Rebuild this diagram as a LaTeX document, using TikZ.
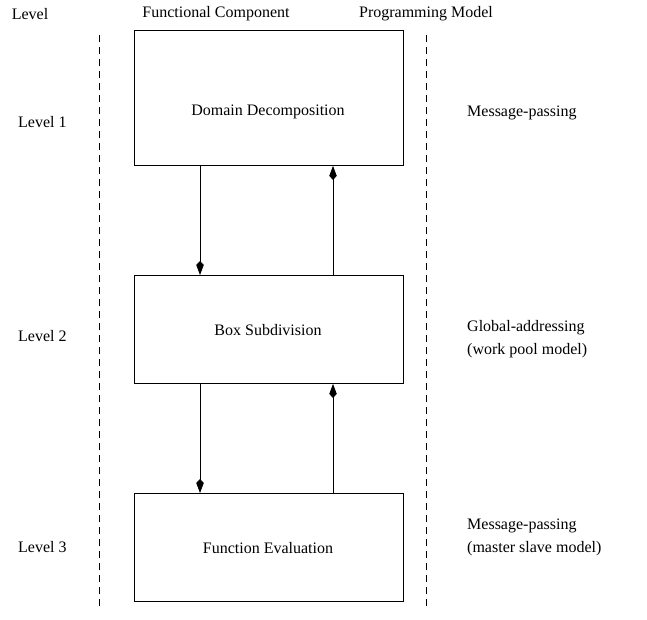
\documentclass[tikz,border=0pt]{standalone}
\usepackage{fontspec}
\setmainfont{Liberation Serif}
\usetikzlibrary{arrows.meta}
\begin{document}
\begin{tikzpicture}[x=1pt,y=-1pt,
  every node/.style={font=\fontsize{16}{18}\selectfont, inner sep=0pt},
  compbox/.style={draw, line width=0.9pt, minimum width=269pt, anchor=north west},
  sep/.style={line width=0.6pt, dash pattern=on 7pt off 5pt},
  flow/.style={line width=0.8pt, -{Kite[length=14pt,width=7.5pt,inset=4pt]}},
  lbl/.style={anchor=west}]
\useasboundingbox (0,0) rectangle (647,620);
% headers
\node (hLevel) at (30,14) {Level};
\node (hFunc) at (216,14) {Functional Component};
\node (hProg) at (426,14) {Programming Model};
% separators
\coordinate (s1a) at (99,35); \coordinate (s1b) at (99,610);
\coordinate (s2a) at (426,35); \coordinate (s2b) at (426,610);
\draw[sep] (s1a) -- (s1b);
\draw[sep] (s2a) -- (s2b);
% boxes
\node[compbox, minimum height=135pt] (b1) at (134,30) {};
\node[compbox, minimum height=108pt] (b2) at (134,275) {};
\node[compbox, minimum height=108pt] (b3) at (134,493) {};
\node (t1) at (268,112) {Domain Decomposition};
\node (t2) at (268,330) {Box Subdivision};
\node (t3) at (268,548) {Function Evaluation};
% levels
\node[lbl] (l1) at (18,122) {Level 1};
\node[lbl] (l2) at (18,336) {Level 2};
\node[lbl] (l3) at (18,547) {Level 3};
% models
\node[lbl] (m1) at (467,113) {Message-passing};
\node[lbl] (m2) at (467,328) {Global-addressing};
\node[lbl] (m2b) at (467,351) {(work pool model)};
\node[lbl] (m3) at (467,526) {Message-passing};
\node[lbl] (m3b) at (467,549) {(master slave model)};
% arrows
\draw[flow] (b1.south west) ++(66,0) coordinate (d1a) -- (d1a |- b2.north);
\draw[flow] (b2.north west) ++(199,0) coordinate (u1a) -- (u1a |- b1.south);
\draw[flow] (b2.south west) ++(66,0) coordinate (d2a) -- (d2a |- b3.north);
\draw[flow] (b3.north west) ++(199,0) coordinate (u2a) -- (u2a |- b2.south);
\end{tikzpicture}
\end{document}
